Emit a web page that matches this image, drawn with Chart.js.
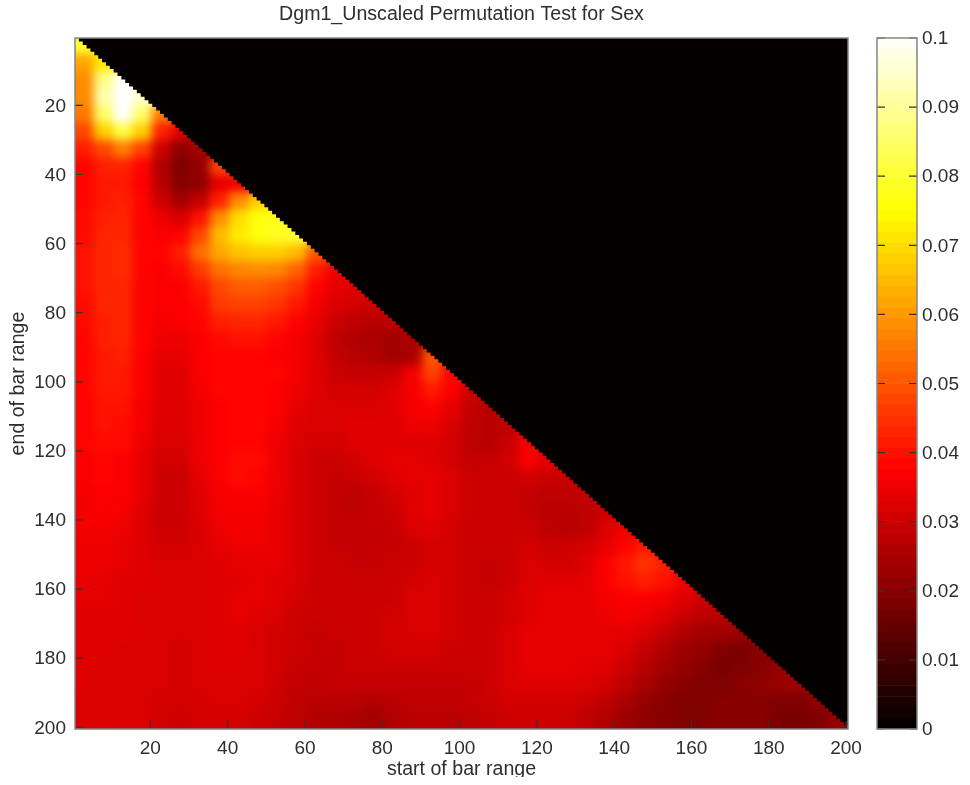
<!DOCTYPE html>
<html>
<head>
<meta charset="utf-8">
<script src="https://cdn.jsdelivr.net/npm/chart.js@4/dist/chart.umd.min.js"></script>
<style>
html,body{margin:0;padding:0;background:#fff;width:970px;height:785px;overflow:hidden}
canvas{position:absolute;top:0}
#heat{left:0}
#bar{left:860px}
</style>
</head>
<body>
<canvas id="heat" width="900" height="777"></canvas>
<canvas id="bar" width="110" height="777"></canvas>
<script>
const titleText = 'Dgm1_Unscaled Permutation Test for Sex';
const xLabel = 'start of bar range';
const yLabel = 'end of bar range';
const xTickValues = [20,40,60,80,100,120,140,160,180,200];
const yTickValues = [20,40,60,80,100,120,140,160,180,200];
const barTickValues = [0,0.01,0.02,0.03,0.04,0.05,0.06,0.07,0.08,0.09,0.1];
const binWidth = 5;
// p-values x 1000. Row n covers end of range 5n-4..5n, column m covers start 5m-4..5m.
const heatRows = [
[80],
[62,72],
[58,88,100],
[58,92,100,95],
[55,85,100,85,55],
[48,68,82,68,42,33],
[42,48,56,47,30,21,24],
[38,42,43,38,26,19,22,48],
[38,41,41,37,27,20,21,34,36],
[38,41,42,38,30,24,29,42,58,68],
[39,42,43,38,35,32,40,58,70,76,78],
[39,43,43,38,37,38,48,65,72,76,78,80],
[40,43,44,38,38,42,54,62,66,68,68,65,50],
[40,43,44,38,37,39,46,54,57,58,57,52,42,35],
[40,43,43,38,37,37,41,48,51,51,49,45,38,34,33],
[39,43,43,38,37,37,39,46,47,47,45,41,36,32,31,30],
[39,42,43,38,36,37,38,42,43,43,41,38,34,30,28,27,28],
[38,42,43,38,35,35,37,39,40,40,38,36,33,28,26,25,24,25],
[38,41,42,37,34,34,37,38,38,38,37,36,33,29,27,26,24,25,50],
[38,41,41,37,33,33,37,38,38,38,38,36,33,30,29,29,30,36,47,38],
[38,41,41,37,33,33,36,38,38,38,37,35,33,31,31,31,33,36,41,37,30],
[38,40,40,36,33,33,35,37,38,38,37,34,32,32,32,32,33,36,37,34,29,27],
[38,40,39,36,32,33,35,37,38,38,36,33,32,32,33,33,33,35,35,32,28,27,28],
[38,39,39,35,32,32,35,37,38,38,35,32,31,31,33,33,33,33,33,31,28,27,30,36],
[37,38,37,34,31,31,35,37,39,39,35,32,30,30,31,33,34,34,33,31,29,29,31,37,33],
[37,38,37,34,30,30,34,37,39,38,35,32,30,29,30,31,33,34,34,32,30,30,30,31,30,29],
[36,37,37,34,30,30,33,36,37,37,35,32,30,29,28,29,31,33,34,32,30,30,30,29,28,28,29],
[36,37,36,33,30,30,33,36,36,36,34,32,30,29,28,29,30,33,34,32,30,30,30,29,27,27,28,30],
[36,36,35,33,30,30,32,35,36,36,34,32,30,29,29,29,29,32,33,31,30,30,30,30,28,27,28,32,36],
[35,35,34,33,31,31,32,34,35,35,34,32,30,29,29,29,29,30,31,31,30,30,30,31,30,30,31,34,38,41],
[35,35,34,33,32,32,32,33,34,34,34,32,30,30,29,29,30,30,31,31,30,29,30,32,31,31,33,37,41,45,42],
[34,34,33,33,32,32,32,33,33,34,33,32,30,30,30,30,30,31,32,31,30,29,30,32,33,33,34,37,40,42,40,36],
[34,34,33,32,32,32,32,33,34,34,33,31,30,30,30,30,30,32,32,31,30,30,31,33,34,34,34,36,37,37,36,33,30],
[33,33,33,32,32,32,32,33,34,33,32,30,30,30,30,30,31,32,32,31,30,30,31,33,34,34,34,35,36,35,33,30,28,27],
[33,33,33,32,32,32,32,33,33,32,31,30,29,30,30,30,31,32,32,31,30,30,32,34,34,34,34,34,34,32,29,26,24,24,23],
[33,33,32,32,32,31,32,33,33,32,31,30,29,29,30,30,31,31,31,30,30,30,32,34,34,34,34,34,32,29,26,23,22,19,18,20],
[33,32,32,32,32,31,32,33,32,32,31,29,29,29,30,30,30,30,30,30,30,30,32,34,34,34,33,33,30,27,24,22,20,18,19,20,22],
[33,32,32,32,32,31,32,32,32,32,30,29,28,29,29,29,29,29,29,29,29,30,32,33,33,33,32,31,28,25,22,20,19,19,20,21,23,23],
[32,32,32,32,31,31,31,32,32,31,30,28,27,27,27,26,27,28,28,28,29,30,31,31,31,31,30,28,25,22,20,19,19,20,20,20,19,19,21],
[32,32,32,32,31,30,31,31,31,30,29,28,26,26,25,24,26,27,27,27,28,29,30,30,30,30,28,26,23,21,20,19,19,20,20,20,18,18,19,22]
];
const barLevels = [0,0.0016,0.0031,0.0047,0.0063,0.0078,0.0094,0.0109,0.0125,0.0141,0.0156,0.0172,0.0188,0.0203,0.0219,0.0234,0.025,0.0266,0.0281,0.0297,0.0313,0.0328,0.0344,0.0359,0.0375,0.0391,0.0406,0.0422,0.0438,0.0453,0.0469,0.0484,0.05,0.0516,0.0531,0.0547,0.0563,0.0578,0.0594,0.0609,0.0625,0.0641,0.0656,0.0672,0.0688,0.0703,0.0719,0.0734,0.075,0.0766,0.0781,0.0797,0.0813,0.0828,0.0844,0.0859,0.0875,0.0891,0.0906,0.0922,0.0938,0.0953,0.0969,0.0984,0.1];

function hot(v){
  const c = t => Math.round(255*Math.max(0,Math.min(1,t)));
  return 'rgb('+c(v/0.0375)+','+c((v-0.0375)/0.0375)+','+c((v-0.075)/0.025)+')';
}
const FONT = '"Liberation Sans", Arial, sans-serif';
const TEXT = '#2e2e2e', FRAME = '#858585', TICK = '#333';
const TICK_SIZE = 19, LABEL_SIZE = 19.6;

const points = [];
heatRows.forEach((row,r)=>row.forEach((v,c)=>{
  points.push({x:(c+0.5)*binWidth+0.5, y:(r+0.5)*binWidth+0.5, v:v/1000});
}));

const smoothHeat = {
  id:'smoothHeat',
  afterDatasetsDraw(chart){
    const ctx = chart.ctx, a = chart.chartArea, X = chart.scales.x, Y = chart.scales.y;
    const L = Math.round(a.left), T = Math.round(a.top), W = Math.round(a.width), H = Math.round(a.height);
    const img = ctx.getImageData(L,T,W,H), d = img.data;
    // carry each row's last drawn colour past the diagonal so that softening does not bleed black
    for(let y=0;y<H;y++){
      let last=-1;
      for(let x=W-1;x>=0;x--){ if(d[(y*W+x)*4+3]>250){last=x;break;} }
      if(last<0) continue;
      const s=(y*W+last)*4;
      for(let x=0;x<W;x++){
        const i=(y*W+x)*4;
        if(x>last || d[i+3]<=250){ d[i]=d[s]; d[i+1]=d[s+1]; d[i+2]=d[s+2]; d[i+3]=255; }
      }
    }
    const P=30;
    const off=document.createElement('canvas'); off.width=W+2*P; off.height=H+2*P;
    const o=off.getContext('2d');
    o.putImageData(img,P,P);
    o.drawImage(off,P,P,1,H,0,P,P,H);
    o.drawImage(off,P+W-1,P,1,H,P+W,P,P,H);
    o.drawImage(off,0,P,W+2*P,1,0,0,W+2*P,P);
    o.drawImage(off,0,P+H-1,W+2*P,1,0,P+H,W+2*P,P);
    ctx.save();
    ctx.fillStyle='#040000';
    ctx.fillRect(L,T,W,H);
    ctx.beginPath();
    ctx.moveTo(X.getPixelForValue(0.5),Y.getPixelForValue(0.5));
    for(let k=1;k<=200;k++){
      ctx.lineTo(X.getPixelForValue(k+0.5),Y.getPixelForValue(k-0.5));
      ctx.lineTo(X.getPixelForValue(k+0.5),Y.getPixelForValue(k+0.5));
    }
    ctx.lineTo(X.getPixelForValue(0.5),Y.getPixelForValue(200.5));
    ctx.closePath();
    ctx.clip();
    ctx.filter='blur(5px)';
    ctx.drawImage(off,L-P,T-P);
    ctx.restore();
  }
};
const frameAndTicks = {
  id:'frameAndTicks',
  afterDraw(chart,args,opts){
    const ctx=chart.ctx,a=chart.chartArea;
    ctx.save();
    ctx.strokeStyle=TICK; ctx.lineWidth=1.2;
    ctx.beginPath();
    if(opts.heat){
      xTickValues.forEach(v=>{const p=chart.scales.x.getPixelForValue(v);ctx.moveTo(p,a.bottom);ctx.lineTo(p,a.bottom-8);});
      yTickValues.forEach(v=>{const p=chart.scales.y.getPixelForValue(v);ctx.moveTo(a.left,p);ctx.lineTo(a.left+8,p);});
    } else {
      barTickValues.forEach(v=>{const p=chart.scales.y.getPixelForValue(v);ctx.moveTo(a.left,p);ctx.lineTo(a.left+8,p);ctx.moveTo(a.right,p);ctx.lineTo(a.right-8,p);});
    }
    ctx.stroke();
    ctx.strokeStyle=FRAME; ctx.lineWidth=1.5;
    ctx.strokeRect(a.left,a.top,a.right-a.left,a.bottom-a.top);
    ctx.restore();
  }
};

new Chart(document.getElementById('heat'),{
  type:'scatter',
  data:{datasets:[{
    data:points,
    clip:0,
    pointStyle:'rect',
    pointBorderWidth:0,
    pointRadius:c=>{
      const X=c.chart.scales.x;
      return (X.getPixelForValue(binWidth)-X.getPixelForValue(0)+1)/Math.SQRT2;
    },
    pointBackgroundColor:c=>hot(c.raw.v)
  }]},
  plugins:[smoothHeat,frameAndTicks],
  options:{
    responsive:false,animation:false,events:[],
    layout:{padding:{left:0,right:52,top:0,bottom:0}},
    plugins:{
      legend:{display:false},tooltip:{enabled:false},
      title:{display:true,text:titleText,fullSize:false,color:TEXT,
        font:{family:FONT,size:LABEL_SIZE,weight:'normal'},padding:{top:3,bottom:11.5}},
      frameAndTicks:{heat:true}
    },
    scales:{
      x:{type:'linear',min:0.5,max:200.5,
        afterBuildTicks:s=>{s.ticks=xTickValues.map(v=>({value:v}));},
        afterFit:s=>{s.height=48;s.paddingLeft=0;s.paddingRight=0;},
        grid:{display:false,drawTicks:false},border:{display:false},
        ticks:{color:TEXT,font:{family:FONT,size:TICK_SIZE},padding:8,maxRotation:0,autoSkip:false},
        title:{display:true,text:xLabel,color:TEXT,font:{family:FONT,size:LABEL_SIZE},padding:{top:0,bottom:-4}}
      },
      y:{type:'linear',reverse:true,min:0.5,max:200.5,
        afterBuildTicks:s=>{s.ticks=yTickValues.map(v=>({value:v}));},
        afterFit:s=>{s.width=75;s.paddingTop=0;s.paddingBottom=0;},
        grid:{display:false,drawTicks:false},border:{display:false},
        ticks:{color:TEXT,font:{family:FONT,size:TICK_SIZE},padding:9,labelOffset:1,autoSkip:false},
        title:{display:true,text:yLabel,color:TEXT,font:{family:FONT,size:LABEL_SIZE},padding:{top:7,bottom:0}}
      }
    }
  }
});

new Chart(document.getElementById('bar'),{
  type:'bar',
  data:{labels:[''],datasets:barLevels.slice(0,-1).map((lo,i)=>({
    data:[[lo,barLevels[i+1]]],
    backgroundColor:hot((lo+barLevels[i+1])/2),
    borderWidth:0,grouped:false,barPercentage:1,categoryPercentage:1
  }))},
  plugins:[frameAndTicks],
  options:{
    responsive:false,animation:false,events:[],
    layout:{padding:{left:17,right:0,top:38,bottom:48}},
    plugins:{legend:{display:false},tooltip:{enabled:false},title:{display:false},frameAndTicks:{heat:false}},
    scales:{
      x:{display:false},
      y:{type:'linear',position:'right',min:0,max:0.1,
        afterBuildTicks:s=>{s.ticks=barTickValues.map(v=>({value:v}));},
        afterFit:s=>{s.width=53;s.paddingTop=0;s.paddingBottom=0;},
        grid:{display:false,drawTicks:false},border:{display:false},
        ticks:{color:TEXT,font:{family:FONT,size:TICK_SIZE},padding:5,labelOffset:1,autoSkip:false,callback:v=>String(v)}
      }
    }
  }
});
</script>
</body>
</html>
